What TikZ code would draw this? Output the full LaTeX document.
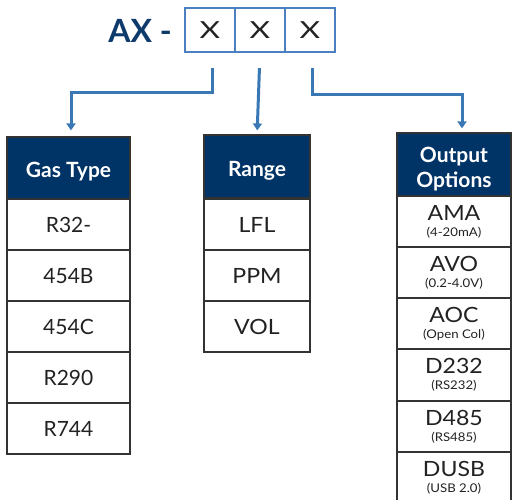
\documentclass[tikz,border=0pt]{standalone}
\usepackage{fontspec}
\usepackage{graphicx}
\setmainfont{Lato}
\usetikzlibrary{arrows.meta}
\definecolor{navy}{HTML}{003366}
\definecolor{titleblue}{HTML}{0E3A6C}
\definecolor{boxblue}{HTML}{4A7FC1}
\definecolor{connblue}{HTML}{3A78B5}
\definecolor{cellline}{HTML}{333333}
\definecolor{celltext}{HTML}{222222}
\newcommand\subtxt[1]{\scalebox{1.1}[1]{\fontsize{12}{12}\selectfont #1}}
\newcommand\maintxt[1]{\scalebox{1.1}[1]{#1}}
\tikzset{
  hdrbox/.style={draw=cellline, line width=1.2pt, fill=navy, inner sep=0pt},
  hdrtext/.style={text=white, inner sep=0pt, font=\fontsize{21}{25}\selectfont\bfseries,
    text height=15pt, text depth=0pt},
  cell/.style={draw=cellline, line width=1.2pt, fill=white, text=celltext, inner sep=0pt,
    font=\fontsize{21}{25}\selectfont, text height=15pt, text depth=0pt},
  ocell/.style={draw=cellline, line width=1.2pt, fill=white, text=celltext, inner sep=0pt,
    font=\fontsize{21}{13.5}\selectfont, align=center, minimum width=114pt},
  xbox/.style={draw=boxblue, line width=2.2pt, minimum width=50pt, minimum height=44pt,
    inner sep=0pt, text=celltext, font=\fontsize{23.5}{25}\selectfont},
  conn/.style={draw=connblue, line width=3pt,
    -{Triangle[width=9pt,length=7pt]}, shorten >=6pt, shorten <=15pt}
}
\begin{document}
\begin{tikzpicture}[x=1pt,y=-1pt]
\useasboundingbox[fill=white] (0,0) rectangle (512,499);
\clip (0,0) rectangle (512,499);
% title
\node[anchor=east, inner sep=0pt, text=titleblue, font=\fontsize{32}{34}\selectfont\bfseries] (ax) at (172,31) {AX -};
\node[xbox] (bx1) at (210,30) {\scalebox{1.35}[1]{X}};
\node[xbox] (bx2) at (260,30) {\scalebox{1.35}[1]{X}};
\node[xbox] (bx3) at (310,30) {\scalebox{1.35}[1]{X}};
% gas type
\node[hdrbox, minimum width=123pt, minimum height=62pt] (gas) at (68.5,168) {};
\node[hdrtext] (gasT) at (68.5,170) {Gas Type};
\begin{scope}[every node/.append style={minimum width=123pt, minimum height=51pt}]
\node[cell] (g1) at (68.5,224.5) {R32-};
\node[cell] (g2) at (68.5,275.5) {454B};
\node[cell] (g3) at (68.5,326.5) {454C};
\node[cell] (g4) at (68.5,377.5) {R290};
\node[cell] (g5) at (68.5,428.5) {R744};
\end{scope}
% range
\node[hdrbox, minimum width=106pt, minimum height=63pt] (rng) at (257,166.5) {};
\node[hdrtext] (rngT) at (257,168.5) {Range};
\begin{scope}[every node/.append style={minimum width=106pt, minimum height=51pt}]
\node[cell] (r1) at (257,224.5) {\maintxt{LFL}};
\node[cell] (r2) at (257,275.5) {\maintxt{PPM}};
\node[cell] (r3) at (257,326.5) {\maintxt{VOL}};
\end{scope}
% output
\node[hdrbox, minimum width=114pt, minimum height=63pt] (out) at (454,164.5) {};
\node[hdrtext] (outT1) at (454,155) {Output};
\node[hdrtext] (outT2) at (454,180) {Options};
\node[ocell, minimum height=51pt] (o1) at (454,221.5) {\maintxt{AMA}\\[2.5pt]\subtxt{(4-20mA)}};
\node[ocell, minimum height=51pt] (o2) at (454,272.5) {\maintxt{AVO}\\[2.5pt]\subtxt{(0.2-4.0V)}};
\node[ocell, minimum height=51pt] (o3) at (454,323.5) {\maintxt{AOC}\\[2.5pt]\subtxt{(Open Col)}};
\node[ocell, minimum height=52pt] (o4) at (454,375) {\maintxt{D232}\\[2.5pt]\subtxt{(RS232)}};
\node[ocell, minimum height=51pt] (o5) at (454,426.5) {\maintxt{D485}\\[2.5pt]\subtxt{(RS485)}};
\node[ocell, minimum height=51pt] (o6) at (454,477.5) {\maintxt{DUSB}\\[2.5pt]\subtxt{(USB 2.0)}};
% connectors
\draw[conn] ([xshift=2pt]bx1.south) -- ++(0,39) -| ([xshift=2.5pt]gas.north);
\draw[conn] (bx2.south) -- ([yshift=-2pt]rng.north);
\draw[conn] ([xshift=2pt]bx3.south) -- ++(0,41) -| ([xshift=8pt,yshift=-2pt]out.north);
\end{tikzpicture}
\end{document}
